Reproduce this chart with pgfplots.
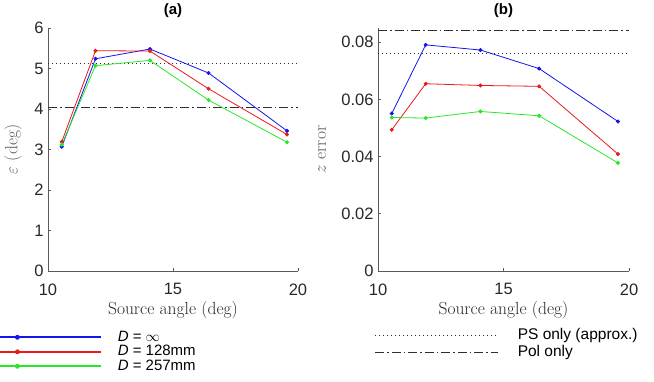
\documentclass[border=0pt]{standalone}
\usepackage{fontspec}
\setmainfont{Liberation Sans}
\newfontfamily\lmr{Latin Modern Roman}
\usepackage{pgfplots}
\pgfplotsset{compat=1.18}

\definecolor{mblue}{RGB}{20,20,235}
\definecolor{mred}{RGB}{235,25,25}
\definecolor{mgreen}{RGB}{40,230,40}
\definecolor{axgray}{RGB}{90,90,90}
\definecolor{txtgray}{RGB}{40,40,40}
\definecolor{refline}{RGB}{45,45,45}

\pgfplotsset{
  panel/.style={
    scale only axis, width=250pt, height=243pt,
    xmin=10, xmax=20, xtick={10,15,20},
    axis x line*=bottom, axis y line*=left,
    tick align=inside, major tick length=3pt,
    axis line style={draw=axgray, line width=0.7pt},
    tick style={draw=axgray, line width=0.7pt},
    ticklabel style={font=\fontsize{16.5}{19}\selectfont, text=txtgray},
    /pgf/number format/assume math mode=true,
    xticklabel style={yshift=-9pt},
    yticklabel style={xshift=-1pt},
    xlabel={\lmr Source angle (deg)},
    xlabel style={font=\fontsize{17.5}{20}\selectfont, text=txtgray,
      at={(axis description cs:0.5,0)}, anchor=north, yshift=-27pt},
    title style={font=\bfseries\fontsize{15}{17}\selectfont, text=black,
      at={(axis description cs:0.5,1)}, anchor=south, yshift=1pt},
    legend cell align=left,
  },
  series/.style={line width=0.8pt, mark=*, mark size=1.6pt, mark options={solid}},
  % legend sample: long coloured bar with one dot near its left end
  dotline/.style={legend image code/.code={
    \fill[fill=#1] (0pt,-0.45pt) rectangle (100pt,0.45pt);
    \path plot[mark=*, mark size=2pt, mark options={fill=#1, draw=none}]
      coordinates {(17pt,0pt)};}},
  psonly/.style={refline, line width=0.8pt, dash pattern=on 1pt off 3pt},
  polonly/.style={refline, line width=0.8pt, dash pattern=on 9pt off 3pt on 1.5pt off 3pt},
}

% epsilon for the three distances
\pgfplotstableread{
x      inf   d128  d257
10.55  3.07  3.19  3.12
11.90  5.24  5.44  5.07
14.08  5.48  5.43  5.20
16.42  4.89  4.50  4.22
19.56  3.46  3.37  3.18
}\epstab

% z error for the three distances
\pgfplotstableread{
x      inf     d128    d257
10.55  0.0551  0.0494  0.0537
11.90  0.0791  0.0655  0.0535
14.08  0.0773  0.0649  0.0558
16.42  0.0708  0.0646  0.0543
19.56  0.0523  0.0409  0.0378
}\ztab

\begin{document}
\begin{tikzpicture}[x=1pt,y=1pt]
\useasboundingbox (0,0) rectangle (654,382);

\begin{axis}[panel,
  at={(48pt,111pt)}, anchor=south west,
  ymin=0, ymax=6, ytick={0,1,...,6},
  title={(a)},
  ylabel={\lmr $\varepsilon$ (deg)},
  ylabel style={font=\fontsize{17.5}{20}\selectfont, text=axgray,
    at={(axis description cs:-0.14,0.5)}, anchor=center},
  legend style={at={(axis description cs:-0.192,-0.243)}, anchor=north west,
    draw=none, fill=none, inner sep=0pt, outer sep=0pt,
    column sep=17pt, row sep=0pt,
    nodes={inner sep=0pt, text height=11pt, text depth=3.5pt,
      font=\fontsize{15}{18}\selectfont}},
]
\addplot[forget plot, psonly] coordinates {(10,5.12) (20,5.12)};
\addplot[forget plot, polonly] coordinates {(10,4.03) (20,4.03)};
\addplot[series, color=mblue, dotline=mblue]   table[x=x, y=inf]  {\epstab};
\addplot[series, color=mred, dotline=mred]     table[x=x, y=d128] {\epstab};
\addplot[series, color=mgreen, dotline=mgreen] table[x=x, y=d257] {\epstab};
\legend{\textit{D} = $\infty$, \textit{D} = 128mm, \textit{D} = 257mm}
\end{axis}

\begin{axis}[panel,
  at={(378pt,111pt)}, anchor=south west, width=251pt,
  ymin=0, ymax=0.085, ytick={0,0.02,0.04,0.06,0.08},
  yticklabels={0,0.02,0.04,0.06,0.08}, scaled y ticks=false,
  title={(b)},
  ylabel={\lmr $z$ error},
  ylabel style={font=\fontsize{17.5}{20}\selectfont, text=axgray,
    at={(axis description cs:-0.223,0.5)}, anchor=center},
  legend style={at={(axis description cs:-0.012,-0.235)}, anchor=north west,
    draw=none, fill=none, inner sep=0pt, outer sep=0pt,
    column sep=19pt, row sep=3pt,
    nodes={inner sep=0pt, text height=11pt, text depth=3pt,
      font=\fontsize{15.5}{18}\selectfont}},
  legend image code/.code={\draw[#1] (0pt,0pt) -- (123pt,0pt);},
]
\addplot[forget plot, series, color=mblue]  table[x=x, y=inf]  {\ztab};
\addplot[forget plot, series, color=mred]   table[x=x, y=d128] {\ztab};
\addplot[forget plot, series, color=mgreen] table[x=x, y=d257] {\ztab};
\addplot[psonly] coordinates {(10,0.0761) (20,0.0761)};
\addplot[polonly] coordinates {(10,0.0842) (20,0.0842)};
\legend{PS only (approx.), Pol only}
\end{axis}
\end{tikzpicture}
\end{document}
